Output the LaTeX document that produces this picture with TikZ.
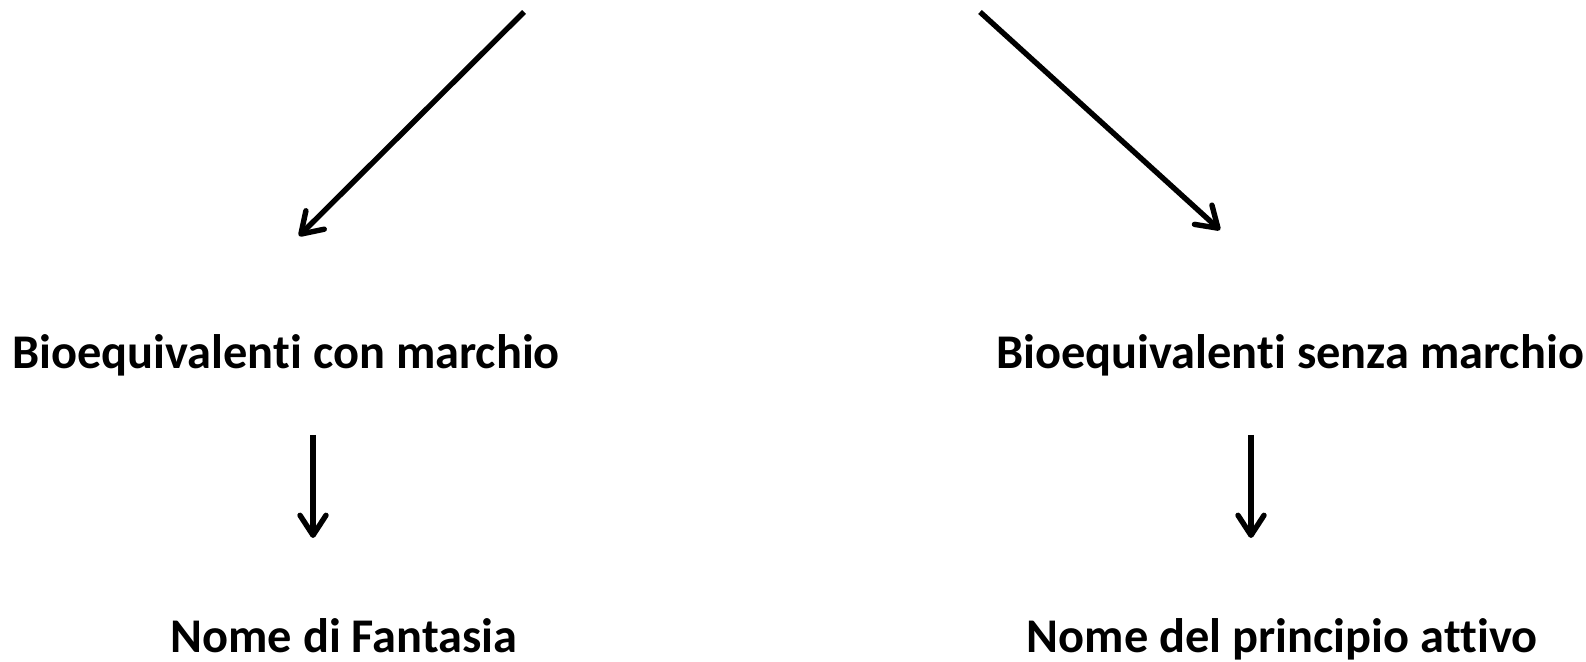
\documentclass[tikz,border=0pt]{standalone}
\usepackage{fontspec}
\setmainfont[Ligatures=NoCommon,Contextuals=NoAlternate]{Carlito}
\usetikzlibrary{arrows.meta}
\begin{document}
\begin{tikzpicture}[x=0.5pt,y=-0.5pt,
  lbl/.style={anchor=base,inner sep=0pt,font=\fontsize{24.2}{29}\selectfont\bfseries},
  arr/.style={line width=2.7pt,-{Straight Barb[length=10pt,width=13pt,line cap=round,line join=round]}}]
\useasboundingbox (0,0) rectangle (1586,662);
\node[lbl] (bcm) at (286,369) {Bioequivalenti con marchio};
\node[lbl] (bsm) at (1290,369) {Bioequivalenti senza marchio};
\node[lbl] (nf) at (344,653) {Nome di Fantasia};
\node[lbl] (npa) at (1282,653) {Nome del principio attivo};
\coordinate (s1) at (524,12);
\coordinate (e1) at (299,236);
\coordinate (s2) at (980,12);
\coordinate (e2) at (1220,230);
\coordinate (s3) at (313,435);
\coordinate (e3) at (313,538);
\coordinate (s4) at (1251,435);
\coordinate (e4) at (1251,538);
\draw[arr] (s1) -- (e1);
\draw[arr] (s2) -- (e2);
\draw[arr] (s3) -- (e3);
\draw[arr] (s4) -- (e4);
\end{tikzpicture}
\end{document}
